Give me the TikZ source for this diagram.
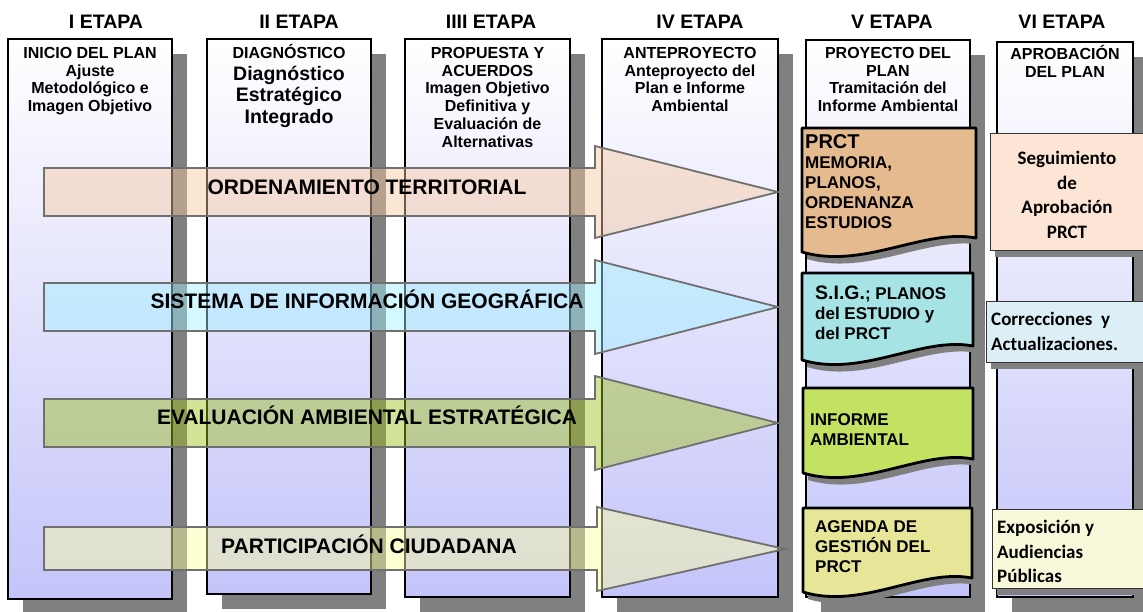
\documentclass[tikz,border=0pt]{standalone}
\usepackage{fontspec}
\setmainfont{Liberation Sans}
\newfontfamily\calibri{Carlito}
\usetikzlibrary{positioning, shadows}

\definecolor{sombra}{HTML}{808080}
\definecolor{lavanda}{HTML}{C4C4FA}
\definecolor{flechagris}{HTML}{707070}
\definecolor{ordfill}{HTML}{F8C8A0}
\definecolor{sigfill}{HTML}{A0F0FF}
\definecolor{evafill}{HTML}{9DC01A}
\definecolor{partfill}{HTML}{FFFFA0}
\definecolor{prctfill}{HTML}{E5BA8F}
\definecolor{sigdoc}{HTML}{A6E3E5}
\definecolor{infofill}{HTML}{C3E262}
\definecolor{agefill}{HTML}{E7E597}
\definecolor{segfill}{HTML}{FDE5D5}
\definecolor{corrfill}{HTML}{DDEFF6}
\definecolor{expofill}{HTML}{F8F8DA}

\tikzset{etapa/.style={anchor=base, inner sep=0pt, font=\bfseries\fontsize{19.5}{22}\selectfont},
         columna/.style={draw, line width=1.2pt, top color=white, bottom color=lavanda, inner sep=0pt, outer sep=0pt,
                         drop shadow={shadow xshift=15pt, shadow yshift=-15pt, fill=sombra, opacity=1}},
         textocol/.style={align=center, inner sep=0pt, font=\bfseries\fontsize{16}{17.8}\selectfont},
         flecha/.style={draw=flechagris, line width=1.8pt, fill opacity=.45},
         rotulo/.style={anchor=base, inner sep=0pt, font=\bfseries\fontsize{21}{24}\selectfont},
         documento/.style={draw, line width=2.8pt, line join=round,
                         drop shadow={shadow xshift=5pt, shadow yshift=-7pt, fill=sombra, opacity=1}},
         textodoc/.style={anchor=north west, align=left, inner sep=0pt, font=\bfseries\fontsize{17}{20}\selectfont},
         caja/.style={draw=black!80, line width=1pt, inner sep=0pt, anchor=north west,
                         drop shadow={shadow xshift=4pt, shadow yshift=-6pt, fill=sombra, opacity=1}},
         textocaja/.style={inner sep=0pt, font=\calibri\bfseries\fontsize{19}{24.5}\selectfont},
        }

\begin{document}
\begin{tikzpicture}[x=1pt, y=-1pt]
        \useasboundingbox (0,0) rectangle (1143,611);
        \fill[white] (0,0) rectangle (1143,611);

        % etapas
        \node[etapa](e1)at(106,28){I ETAPA};
        \node[etapa](e2)at(299,28){II ETAPA};
        \node[etapa](e3)at(491,28){IIII ETAPA};
        \node[etapa](e4)at(700,28){IV ETAPA};
        \node[etapa](e5)at(892,28){V ETAPA};
        \node[etapa](e6)at(1062,28){VI ETAPA};

        % columnas
        \node[columna, minimum width=164, minimum height=560](col1)at(90,319){};
        \node[columna, minimum width=164, minimum height=555](col2)at(289,316.5){};
        \node[columna, minimum width=165, minimum height=558](col3)at(487.5,318){};
        \node[columna, minimum width=176, minimum height=558](col4)at(690,318){};
        \node[columna, minimum width=164, minimum height=557](col5)at(888,318.5){};
        \node[columna, minimum width=136, minimum height=555](col6)at(1065,319.5){};

        \node[textocol, below=8pt of col1.north](t1){INICIO DEL PLAN\\Ajuste\\Metodológico e\\Imagen Objetivo};
        \node[textocol, below=5pt of col2.north, font=\bfseries\fontsize{19.5}{21.8}\selectfont](t2){{\fontsize{16}{17.8}\selectfont DIAGNÓSTICO}\\Diagnóstico\\Estratégico\\Integrado};
        \node[textocol, below=8pt of col3.north](t3){PROPUESTA Y\\ACUERDOS\\Imagen Objetivo\\Definitiva y\\Evaluación de\\Alternativas};
        \node[textocol, below=8pt of col4.north](t4){ANTEPROYECTO\\Anteproyecto del\\Plan e Informe\\Ambiental};
        \node[textocol, below=7pt of col5.north](t5){PROYECTO DEL\\PLAN\\Tramitación del\\Informe Ambiental};
        \node[textocol, below=3pt of col6.north](t6){APROBACIÓN\\DEL PLAN};

        % flechas
        \draw[flecha, fill=ordfill](44,168)--(595,168)--(595,146)--(778,192)--(595,238)--(595,216)--(44,216)--cycle;
        \node[rotulo](ord)at(367,194){ORDENAMIENTO TERRITORIAL};

        \draw[flecha, fill=sigfill](44,283)--(595,283)--(595,260)--(778,307)--(595,354)--(595,331)--(44,331)--cycle;
        \node[rotulo](sig)at(367,308){SISTEMA DE INFORMACIÓN GEOGRÁFICA};

        \draw[flecha, fill=evafill](44,399)--(595,399)--(595,376)--(778,423)--(595,470)--(595,447)--(44,447)--cycle;
        \node[rotulo](eva)at(367,424){EVALUACIÓN AMBIENTAL ESTRATÉGICA};

        \draw[flecha, fill=partfill](44,527)--(597,527)--(597,507)--(785,549)--(597,591)--(597,570)--(44,570)--cycle;
        \node[rotulo](part)at(369,553){PARTICIPACIÓN CIUDADANA};

        % documentos V etapa
        \draw[documento, fill=prctfill](802,128)--(976,128)--(976,238).. controls (924,228) and (863,270) ..(802,252)--cycle;
        \node[textodoc](prct)at(805,134){{\fontsize{20}{20}\selectfont PRCT}\\MEMORIA,\\PLANOS,\\ORDENANZA\\ESTUDIOS};

        \draw[documento, fill=sigdoc](802,273)--(973,273)--(973,346).. controls (922,336) and (862,378) ..(802,360)--cycle;
        \node[textodoc](sigt)at(815,286){{\fontsize{19.5}{20}\selectfont S.I.G.}; PLANOS\\del ESTUDIO y\\del PRCT};

        \draw[documento, fill=infofill](803,388)--(973,388)--(973,459).. controls (922,449) and (863,491) ..(803,473)--cycle;
        \node[textodoc](info)at(810,413){INFORME\\AMBIENTAL};

        \draw[documento, fill=agefill](803,508)--(972,508)--(972,578).. controls (921,568) and (862,610) ..(803,592)--cycle;
        \node[textodoc](age)at(815,520){AGENDA DE\\GESTIÓN DEL\\PRCT};

        % cajas VI etapa
        \node[caja, fill=segfill, minimum width=160, minimum height=117](seg)at(990,133){};
        \node[textocaja, align=center, anchor=north](segt)at(1067,151){Seguimiento\\de\\Aprobación\\PRCT};

        \node[caja, fill=corrfill, minimum width=165, minimum height=61](corr)at(986,301){};
        \node[textocaja, align=left, anchor=north west](corrt)at(991,312){Correcciones\ \ y\\Actualizaciones.};

        \node[caja, fill=expofill, minimum width=160, minimum height=79](expo)at(992,509){};
        \node[textocaja, align=left, anchor=north west](expot)at(997,520){Exposición y\\Audiencias\\Públicas};
    \end{tikzpicture}
\end{document}
